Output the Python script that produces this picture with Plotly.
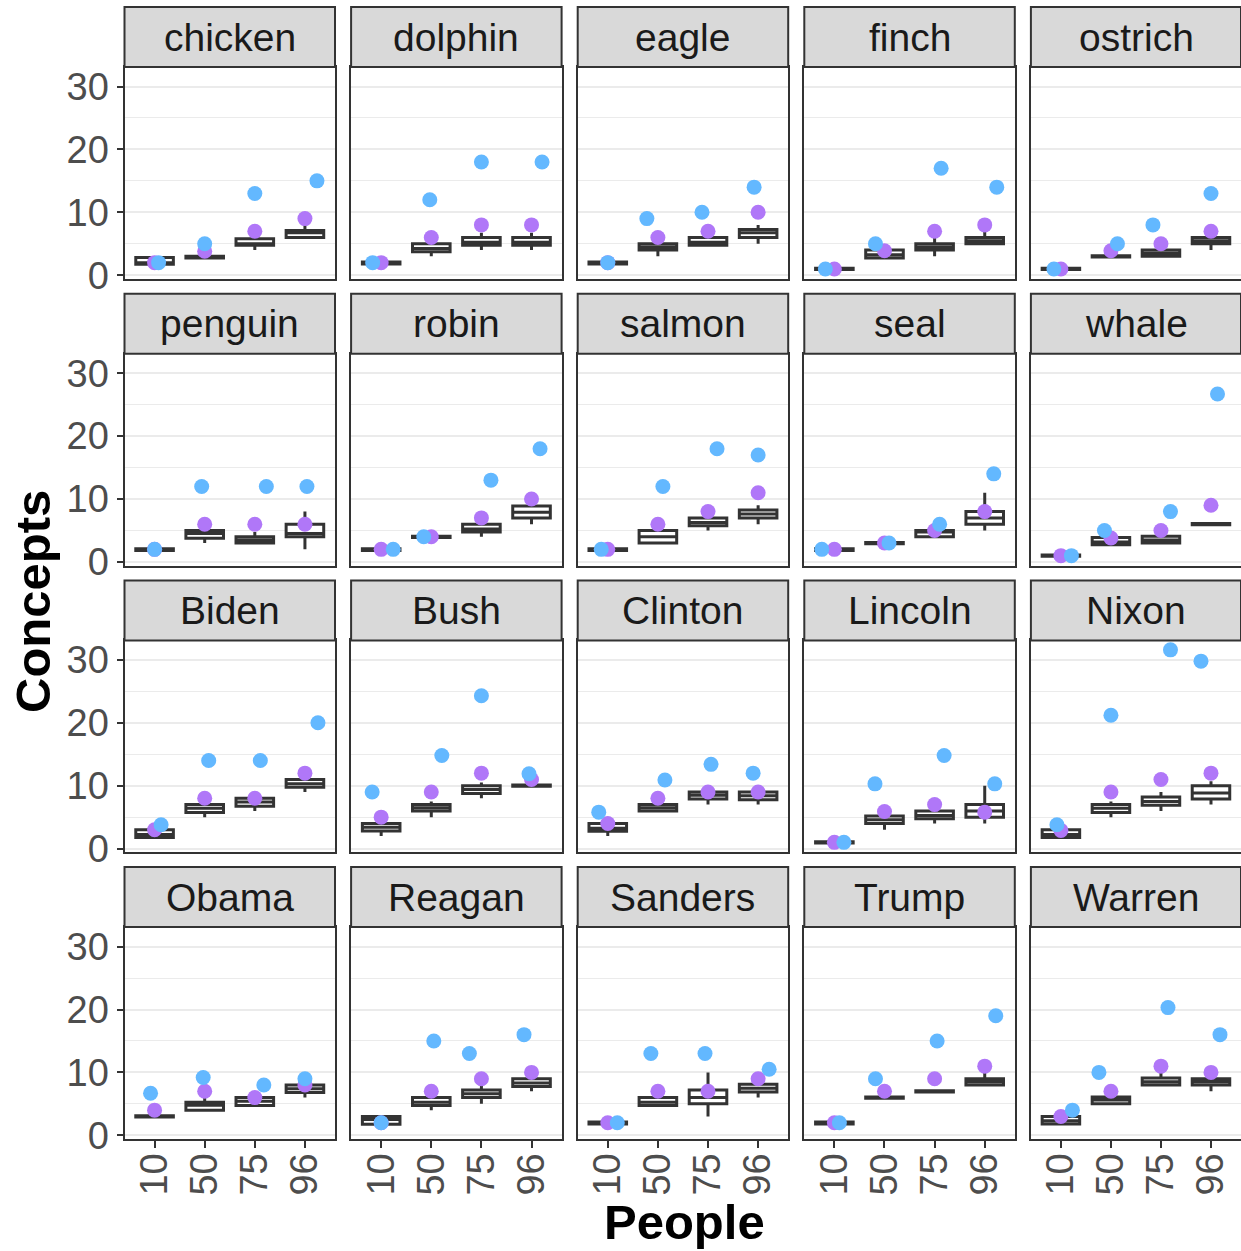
import plotly.graph_objects as go

# Facet order (row-major, 5 per row)
concepts = ["chicken", "dolphin", "eagle", "finch", "ostrich",
            "penguin", "robin", "salmon", "seal", "whale",
            "Biden", "Bush", "Clinton", "Lincoln", "Nixon",
            "Obama", "Reagan", "Sanders", "Trump", "Warren"]
people = ["10", "50", "75", "96"]
y_ticks = [0, 10, 20, 30]

# Box statistics per concept, one value per People level
box_lo = [
    [1.75, 2.75, 4, 6], [1.8, 3, 4, 4], [1.8, 3, 4.75, 5], [0.9, 2.75, 3, 5], [0.9, 2.9, 3, 4],
    [1.8, 3, 3, 2], [1.8, 3.9, 4, 6], [1.8, 3, 5, 6], [1.8, 2.9, 4, 5], [0.9, 2.75, 3, 5.9],
    [1.75, 5, 6, 9], [2, 5, 8, 9.9], [2, 6, 7, 7], [0.9, 3, 4, 4], [1.75, 5, 6, 7],
    [2.9, 4, 4.75, 6], [1.75, 4, 5, 7], [1.8, 4.75, 3, 6], [1.8, 5.9, 6.9, 8], [1.8, 5, 8, 7],
]
box_q1 = [
    [1.75, 2.75, 4.75, 6], [1.8, 3.75, 4.75, 4.75], [1.8, 4, 4.75, 6], [0.9, 2.75, 4, 5], [0.9, 2.9, 3, 5],
    [1.8, 3.75, 3, 4], [1.8, 3.9, 4.75, 7], [1.8, 3, 5.75, 7], [1.8, 2.9, 4, 6], [0.9, 2.75, 3, 5.9],
    [1.75, 5.75, 6.75, 9.75], [2.8, 6, 8.75, 9.9], [2.75, 6, 7.9, 7.75], [0.9, 4, 4.75, 5], [1.75, 5.75, 6.9, 7.9],
    [2.9, 4, 4.75, 6.8], [1.75, 4.75, 6, 7.75], [1.8, 4.75, 5, 6.9], [1.8, 5.9, 6.9, 8], [1.8, 5, 8, 8],
]
box_med = [
    [2, 3, 5, 6.75], [2, 4.25, 5.25, 5.25], [2, 4.5, 5.25, 6.75], [1, 3.25, 4.5, 5.5], [1, 3, 3.5, 5.5],
    [2, 4.5, 3.5, 4.5], [2, 4, 5.25, 7.9], [2, 4, 6.25, 7.6], [2, 3, 4.75, 7], [1, 3.15, 3.5, 6],
    [2.25, 6.4, 7.4, 10.3], [3.4, 6.5, 9.4, 10], [3.25, 6.5, 8.5, 8.4], [1, 4.6, 5.25, 6], [2.25, 6.4, 7.5, 8.85],
    [3, 4.8, 5.4, 7.4], [2.5, 5.25, 6.6, 8.3], [2, 5.25, 6, 7.5], [2, 6, 7, 8.5], [2.3, 5.6, 8.5, 8.5],
]
box_q3 = [
    [2.8, 3, 5.8, 7.1], [2.1, 5, 6, 6], [2.1, 5, 6, 7.25], [1.1, 4, 5, 6], [1.1, 3.1, 4, 6],
    [2.1, 5, 4, 6], [2.1, 4.1, 6, 8.9], [2.1, 5, 7, 8.25], [2.1, 3.1, 5, 8], [1.1, 3.9, 4.1, 6.1],
    [3, 7, 8, 11], [4, 7, 10, 10.1], [4, 7, 9, 9], [1.1, 5.2, 6, 7], [3, 7, 8.2, 10],
    [3.1, 5.25, 6, 8], [3, 6, 7.2, 9], [2.1, 6, 7.2, 8.1], [2.1, 6.1, 7.1, 9], [3, 6.1, 9.1, 9],
]
box_hi = [
    [2.8, 3, 6, 8.3], [2.1, 5.5, 6.75, 6.75], [2.1, 5.5, 6, 8], [1.1, 4, 6, 7.2], [1.1, 3.1, 4, 6.5],
    [2.1, 5.5, 4.75, 8], [2.1, 4.1, 6.5, 9.5], [2.1, 5.5, 7.5, 9], [2.1, 3.1, 5, 11], [1.1, 3.9, 4.1, 6.1],
    [3, 7.5, 8, 11.5], [4, 7.5, 10.5, 10.1], [4, 7, 9.5, 9], [1.1, 5.5, 6.5, 10], [3, 7.5, 9, 10.7],
    [3.1, 6, 6, 8], [3, 6.5, 8, 9.5], [2.1, 6, 10, 8.1], [2.1, 6.1, 7.1, 10], [3, 6.1, 10, 9],
]

# Point series
purple_vals = [
    [2, 3.8, 7, 9], [2, 6, 8, 8], [2, 6, 7, 10], [1, 3.9, 7, 8], [1, 3.9, 5, 7],
    [2, 6, 6, 6], [2, 4, 7, 10], [2, 6, 8, 11], [2, 3, 5, 8], [1, 3.8, 5, 9],
    [3, 8, 8, 12], [5, 9, 12, 11], [4, 8, 9, 9], [1, 5.9, 7, 5.8], [2.9, 9, 11, 12],
    [4, 7, 6, 8], [2, 7, 9, 10], [2, 7, 7, 9], [2, 7, 9, 11], [3, 7, 11, 10],
]
blue_vals = [
    [2, 5, 13, 15], [2, 12, 18, 18], [2, 9, 10, 14], [1, 5, 17, 14], [1, 5, 8, 13],
    [2, 12, 12, 12], [2, 4, 13, 18], [2, 12, 18, 17], [2, 3, 6, 14], [1, 5, 8, 26.7],
    [3.8, 14, 14, 20], [9, 14.8, 24.3, 11.9], [5.8, 10.9, 13.4, 12], [1, 10.3, 14.8, 10.3], [3.8, 21.2, 31.6, 29.8],
    [6.7, 9.2, 8, 9], [2, 15, 13, 16], [2, 13, 13, 10.5], [2, 9, 15, 19], [4, 10, 20.3, 16],
]
# horizontal jitter of the blue points (in category units)
blue_jitter = [
    [0.08, 0, 0, 0.24], [-0.17, -0.03, 0, 0.21], [0, -0.22, -0.12, -0.08], [-0.18, -0.18, 0.13, 0.24], [-0.14, 0.13, -0.16, 0],
    [0, -0.06, 0.23, 0.04], [0.24, -0.15, 0.19, 0.17], [-0.13, 0.1, 0.18, 0], [-0.25, 0.09, 0.1, 0.18], [0.21, -0.13, 0.19, 0.13],
    [0.13, 0.08, 0.11, 0.26], [-0.18, 0.21, 0, -0.05], [-0.18, 0.14, 0.06, -0.1], [0.19, -0.19, 0.19, 0.2], [-0.08, 0, 0.19, -0.2],
    [-0.08, -0.03, 0.18, 0], [0, 0.05, -0.24, -0.15], [0.19, -0.14, -0.06, 0.22], [0.1, -0.18, 0.05, 0.22], [0.23, -0.24, 0.14, 0.18],
]

BLUE = "#63B8FF"
PURPLE = "#B077F8"
DARK = "#333333"
GRID = "#EBEBEB"
FONT = "Liberation Sans, Arial, sans-serif"

W, H = 1241, 1251
NCOL = 5
col_left0, col_pitch, panel_w = 124.5, 226.6, 210.5
row_top0, row_pitch, strip_h, panel_h = 7.0, 286.7, 60.0, 212.0

xpos = list(range(1, len(people) + 1))

fig = go.Figure()
layout = dict(
    template="none",
    width=W, height=H, autosize=False,
    margin=dict(l=0, r=0, t=0, b=0, pad=0, autoexpand=False),
    paper_bgcolor="white", plot_bgcolor="white",
    showlegend=False,
    font=dict(family=FONT),
    shapes=[], annotations=[],
)

for k, name in enumerate(concepts):
    r, c = divmod(k, NCOL)
    n = k + 1
    xref = "x" if n == 1 else f"x{n}"
    yref = "y" if n == 1 else f"y{n}"

    fig.add_trace(go.Box(
        x=xpos, q1=box_q1[k], median=box_med[k], q3=box_q3[k],
        lowerfence=box_lo[k], upperfence=box_hi[k],
        width=0.75, whiskerwidth=0, boxpoints=False,
        fillcolor="white", line=dict(color=DARK, width=3),
        xaxis=xref, yaxis=yref, hoverinfo="skip",
    ))
    fig.add_trace(go.Scatter(
        x=xpos, y=purple_vals[k], mode="markers",
        marker=dict(size=15, color=PURPLE, line=dict(width=0)),
        xaxis=xref, yaxis=yref, hoverinfo="skip",
    ))
    fig.add_trace(go.Scatter(
        x=[p + d for p, d in zip(xpos, blue_jitter[k])], y=blue_vals[k], mode="markers",
        marker=dict(size=15, color=BLUE, line=dict(width=0)),
        xaxis=xref, yaxis=yref, hoverinfo="skip",
    ))

    x0 = col_left0 + c * col_pitch
    x1 = min(x0 + panel_w, W)
    s_top = row_top0 + r * row_pitch
    p_top = s_top + strip_h
    p_bot = p_top + panel_h

    bottom_row = r == 3
    left_col = c == 0

    layout[f"xaxis{n}"] = dict(
        domain=[x0 / W, x1 / W], anchor=yref, automargin=False,
        range=[0.4, len(people) + 0.6],
        tickmode="array", tickvals=xpos, ticktext=people,
        showticklabels=bottom_row, ticks="outside" if bottom_row else "",
        ticklen=7, tickwidth=2, tickcolor=DARK, tickangle=-90,
        ticklabelstandoff=-10,
        tickfont=dict(size=38, color="#4D4D4D", family=FONT),
        showgrid=False, zeroline=False,
        showline=True, mirror=True, linecolor=DARK, linewidth=2,
    )
    layout[f"yaxis{n}"] = dict(
        domain=[1 - p_bot / H, 1 - p_top / H], anchor=xref, automargin=False,
        range=[-0.6, 33.1],
        tickmode="array", tickvals=y_ticks,
        showticklabels=left_col, ticks="outside" if left_col else "",
        ticklen=6, tickwidth=2, tickcolor=DARK,
        tickfont=dict(size=38, color="#4D4D4D", family=FONT),
        showgrid=True, gridcolor=GRID, gridwidth=2,
        minor=dict(tickvals=[5, 15, 25], showgrid=True, gridcolor=GRID, gridwidth=1, ticks=""),
        zeroline=False,
        showline=True, mirror=True, linecolor=DARK, linewidth=2,
    )

    # facet strip
    layout["shapes"].append(dict(
        type="rect", xref="paper", yref="paper",
        x0=x0 / W, x1=x1 / W, y0=1 - p_top / H, y1=1 - s_top / H,
        fillcolor="#D9D9D9", line=dict(color=DARK, width=2),
    ))
    layout["annotations"].append(dict(
        text=name, xref="paper", yref="paper",
        x=(x0 + x0 + panel_w) / 2 / W, y=1 - (s_top + strip_h / 2) / H,
        xanchor="center", yanchor="middle", showarrow=False,
        font=dict(size=39, color="#1A1A1A", family=FONT),
    ))

# axis titles
layout["annotations"].append(dict(
    text="<b>People</b>", xref="paper", yref="paper",
    x=684 / W, y=1 - 1222 / H, xanchor="center", yanchor="middle",
    showarrow=False, font=dict(size=49, color="black", family=FONT),
))
layout["annotations"].append(dict(
    text="<b>Concepts</b>", xref="paper", yref="paper",
    x=33 / W, y=1 - 602 / H, xanchor="center", yanchor="middle",
    textangle=-90, showarrow=False, font=dict(size=49, color="black", family=FONT),
))

fig.update_layout(**layout)
fig.write_html("out.html", config={"responsive": False})
